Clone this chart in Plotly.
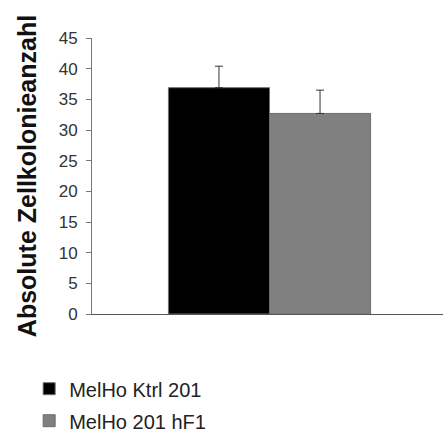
import plotly.graph_objects as go

categories = [""]
series_names = ["MelHo Ktrl 201", "MelHo 201 hF1"]
means = [36.9, 32.7]
errors = [3.5, 3.8]
colors = ["#000000", "#808080"]
y_ticks = [0, 5, 10, 15, 20, 25, 30, 35, 40, 45]

fig = go.Figure()
for name, m, e, c in zip(series_names, means, errors, colors):
    fig.add_trace(go.Bar(
        x=categories, y=[m], name=name, legendgroup=name,
        marker=dict(color=c, line=dict(color="#6e6e6e", width=1)),
        error_y=dict(type="data", array=[e], symmetric=False, arrayminus=[0],
                     color="#333333", thickness=1, width=4),
    ))

font_family = "Arial, Liberation Sans, sans-serif"
fig.update_layout(
    width=443, height=446,
    margin=dict(l=92, r=0, t=38, b=132, autoexpand=False),
    paper_bgcolor="white", plot_bgcolor="white",
    barmode="group", bargap=0.424, bargroupgap=0,
    font=dict(family=font_family, color="#222222"),
    showlegend=True,
    legend=dict(x=-0.179, xanchor="left", y=-0.2, yanchor="top",
                font=dict(size=20, color="#222222"), tracegroupgap=3,
                traceorder="grouped", bgcolor="rgba(0,0,0,0)"),
    xaxis=dict(range=[-0.5057, 0.4943], showticklabels=False, ticks="",
               showline=True, linecolor="#555555", linewidth=1,
               showgrid=False, zeroline=False, fixedrange=True, automargin=False),
    yaxis=dict(range=[0, 45], tickvals=y_ticks, ticks="outside", ticklen=5,
               tickcolor="#777777", showline=True, linecolor="#777777",
               linewidth=1, showgrid=False, zeroline=False, automargin=False,
               ticklabelstandoff=5,
               tickfont=dict(size=17, color="#333333"),
               title=dict(text="<b>Absolute Zellkolonieanzahl</b>",
                          font=dict(size=25, color="#111111"), standoff=14)),
)
fig.write_html("out.html", config={"displayModeBar": False},
               post_script="document.body.style.margin='0';")
